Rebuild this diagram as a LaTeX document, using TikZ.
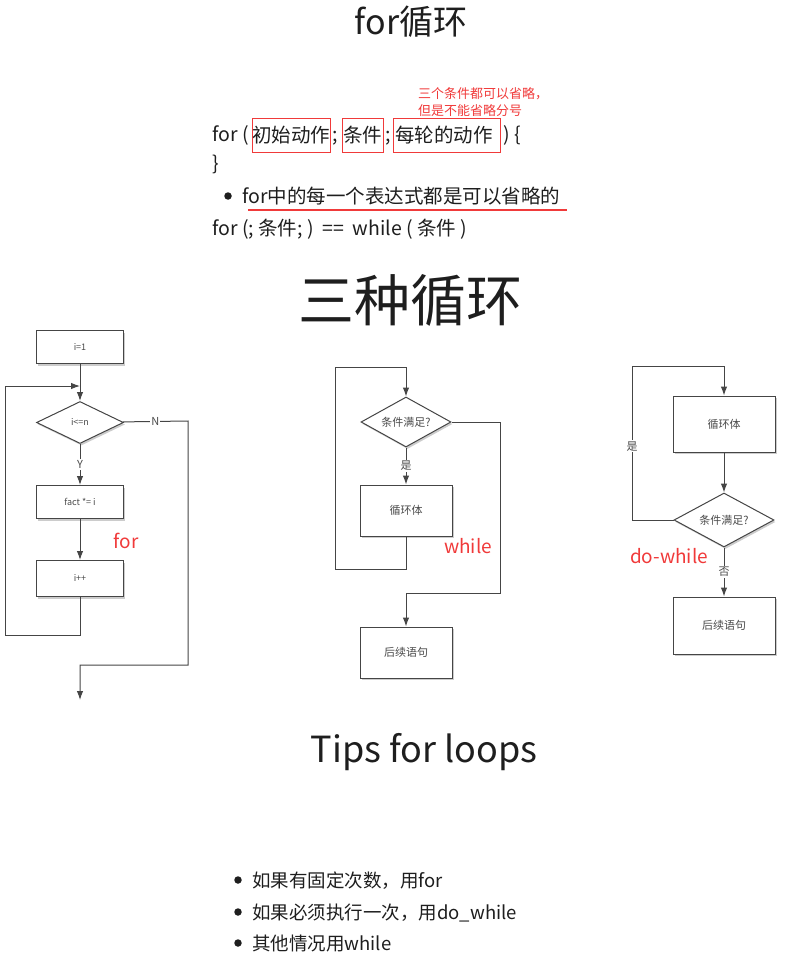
\documentclass[tikz,border=0pt]{standalone}
\usepackage{fontspec}
\setmainfont{Noto Sans CJK SC}
\usetikzlibrary{positioning,shapes.geometric,shadows,arrows.meta}
\definecolor{ink}{HTML}{1E1E1E}
\definecolor{linegray}{HTML}{454545}
\definecolor{boxtxt}{HTML}{4A4A4A}
\definecolor{annored}{HTML}{F03A3A}
\newcommand{\fs}[1]{\fontsize{#1}{#1}\selectfont}

\begin{document}
\begin{tikzpicture}
        [x=1pt,y=-1pt,
         box/.style={rectangle,draw=linegray,line width=1pt,fill=white,
           drop shadow={opacity=0.4,shadow xshift=1.5pt,shadow yshift=-2pt},
           text=boxtxt,font=\fs{11}},
         dec/.style={diamond,draw=linegray,line width=1pt,fill=white,aspect=2,inner sep=0pt,
           drop shadow={opacity=0.4,shadow xshift=1.5pt,shadow yshift=-2pt},
           text=boxtxt,font=\fs{11}},
         arr/.style={-{Latex[length=9pt,width=6.5pt]},draw=linegray,line width=1pt},
         lbl/.style={fill=white,inner sep=1pt,text=boxtxt,font=\fs{11}},
         code/.style={anchor=base west,inner sep=0pt,text=ink,font=\fs{19.5}},
         rbox/.style={draw=annored,line width=1pt,inner sep=0pt,minimum height=33pt,text=ink,font=\fs{19.5}},
         note/.style={anchor=base west,inner sep=0pt,text=annored,font=\fs{13}},
         tag/.style={text=annored,inner sep=0pt,font=\fs{19}},
         tips/.style={anchor=base west,inner sep=0pt,text=ink,font=\fs{18.5}},
         dot/.style={circle,fill=ink,inner sep=0pt,minimum size=7.5pt}]
        \useasboundingbox (0,0) rectangle (788,963);
        % titles
        \node[text=ink,font=\fs{34}] (title) at (411,22) {for循环};
        \node[text=ink,font=\fs{56}] (kinds) at (410,300) {三种循环};
        \node[text=ink,font=\fs{36}] (tipstitle) at (424,752) {Tips for loops};
        % for syntax
        \node[note] (n1) at (418,99) {三个条件都可以省略，};
        \node[note] (n2) at (418,116) {但是不能省略分号};
        \node[code] (c1) at (212,142) {for (};
        \node[rbox,minimum width=78pt] (r1) at (291,135.5) {初始动作};
        \node[code] (c2) at (332,142) {;};
        \node[rbox,minimum width=41pt] (r2) at (362.5,135.5) {条件};
        \node[code] (c3) at (385,142) {;};
        \node[rbox,minimum width=107pt,text width=103pt] (r3) at (446.5,135.5) {每轮的动作};
        \node[code] (c4) at (503,142) {) \{};
        \node[code] (c5) at (212,170) {\}};
        \node[dot] (b1) at (228,196) {};
        \node[code] (c6) at (242,203) {for中的每一个表达式都是可以省略的};
        \draw[annored,line width=1.5pt] (248,210) -- (567,210);
        \node[code] (c7) at (212,235) {for (; 条件; )\ \ ==\ \ while ( 条件 )};
        % for
        \node[box,minimum width=87pt,minimum height=33pt,font=\fs{9}] (init) at (80,347) {i=1};
        \node[dec,minimum width=87pt,minimum height=42pt,font=\fs{9},below=37pt of init] (cond) {i<=n};
        \node[box,minimum width=87pt,minimum height=33pt,font=\fs{9},below=41pt of cond] (body) {fact *= i};
        \node[box,minimum width=87pt,minimum height=36pt,font=\fs{9},below=41pt of body] (inc) {i++};
        \coordinate (fjoin) at (80,386);
        \coordinate (fl) at (5,635);
        \coordinate (fr) at (188,421);
        \coordinate (fb) at (80,665);
        \coordinate (fend) at (80,700);
        \draw[arr] (init) -- (cond);
        \draw[arr] (cond) -- node[lbl]{Y} (body);
        \draw[arr] (body) -- (inc);
        \draw[arr] (inc) |- (fl) |- (fjoin);
        \draw[arr] (cond) -- node[lbl]{N} (fr) |- (fb) -- (fend);
        \node[tag] (ftag) at (126,541) {for};
        % while
        \node[dec,minimum width=90pt,minimum height=50pt] (wcond) at (406,422) {条件满足?};
        \node[box,minimum width=92pt,minimum height=51pt,below=37pt of wcond] (wbody) {循环体};
        \node[box,minimum width=92pt,minimum height=51pt,below=90pt of wbody] (wnext) {后续语句};
        \coordinate (wl) at (335,569);
        \coordinate (wt) at (406,367);
        \coordinate (wr) at (500,593);
        \draw[arr] (wcond) -- node[lbl]{是} (wbody);
        \draw[arr] (wbody) |- (wl) |- (wt) -- (wcond);
        \draw[arr] (wcond) -| (wr) -| (wnext);
        \node[tag] (wtag) at (468,546) {while};
        % do-while
        \node[box,minimum width=102pt,minimum height=56pt] (dbody) at (724,424) {循环体};
        \node[dec,minimum width=100pt,minimum height=54pt,below=40pt of dbody] (dcond) {条件满足?};
        \node[box,minimum width=102pt,minimum height=57pt,below=49pt of dcond] (dnext) {后续语句};
        \coordinate (dl) at (632,366);
        \draw[arr] (dbody) -- (dcond);
        \draw[arr] (dcond) -| node[lbl,pos=0.74]{是} (dl) -| (dbody);
        \draw[arr] (dcond) -- node[lbl]{否} (dnext);
        \node[tag] (dtag) at (669,556) {do-while};
        % tips
        \node[dot] (t0) at (238,880) {};
        \node[tips] (t1) at (252,887) {如果有固定次数，用for};
        \node[dot] (t0b) at (238,912) {};
        \node[tips] (t2) at (252,919) {如果必须执行一次，用do\_while};
        \node[dot] (t0c) at (238,943) {};
        \node[tips] (t3) at (252,950) {其他情况用while};
\end{tikzpicture}
\end{document}
